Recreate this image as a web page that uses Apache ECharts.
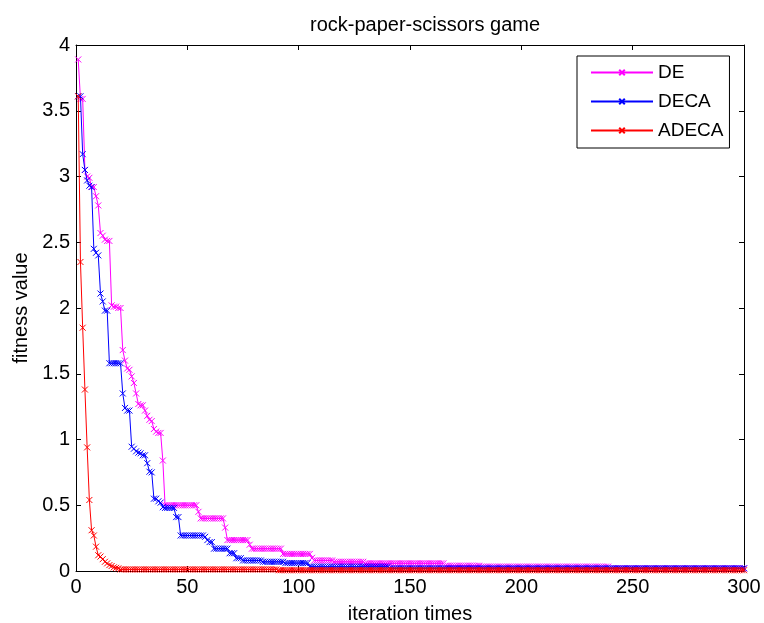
<!DOCTYPE html>
<html>
<head>
<meta charset="utf-8">
<title>rock-paper-scissors game</title>
<script src="https://cdn.jsdelivr.net/npm/echarts@6/dist/echarts.min.js"></script>
<style>
  html, body { margin: 0; padding: 0; background: #fff; }
  #chart { width: 764px; height: 623px; }
</style>
</head>
<body>
<div id="chart"></div>
<script>
// data, as [value, how many iterations it holds]
var seriesNames = ['DE', 'DECA', 'ADECA'];
var seriesColors = ['#ff00ff', '#0000ff', '#ff0000'];
var xTicks = [0, 50, 100, 150, 200, 250, 300];
var yTicks = [0, 0.5, 1, 1.5, 2, 2.5, 3, 3.5, 4];

var deSteps = [
  [3.89, 1], [3.59, 2], [3.05, 1], [3.00, 1], [2.99, 1], [2.92, 2], [2.85, 1], [2.78, 1],
  [2.57, 1], [2.55, 1], [2.52, 1], [2.51, 2], [2.02, 1], [2.01, 2], [2.00, 2], [1.68, 1],
  [1.60, 1], [1.54, 1], [1.53, 1], [1.48, 1], [1.43, 1], [1.35, 1], [1.27, 1], [1.26, 2],
  [1.22, 1], [1.18, 1], [1.15, 1], [1.14, 1], [1.08, 1], [1.06, 1], [1.05, 2], [0.84, 1],
  [0.50, 15], [0.45, 1], [0.40, 11], [0.33, 1], [0.235, 10], [0.20, 1], [0.17, 14],
  [0.13, 13], [0.10, 1], [0.08, 9], [0.07, 14], [0.058, 36], [0.04, 16], [0.033, 58], [0.02, 61]
];
var decaSteps = [
  [3.61, 2], [3.17, 1], [3.05, 1], [2.97, 1], [2.93, 1], [2.92, 1], [2.45, 1], [2.42, 1],
  [2.40, 1], [2.11, 1], [2.05, 1], [1.98, 2], [1.58, 6], [1.35, 1], [1.24, 1], [1.22, 2],
  [0.945, 1], [0.93, 1], [0.91, 1], [0.90, 1], [0.895, 1], [0.88, 2], [0.82, 1], [0.755, 1],
  [0.75, 1], [0.55, 2], [0.53, 1], [0.52, 1], [0.485, 1], [0.48, 5], [0.41, 2], [0.27, 11],
  [0.26, 1], [0.235, 1], [0.22, 2], [0.17, 7], [0.135, 3], [0.097, 3], [0.08, 9], [0.07, 10],
  [0.06, 11], [0.033, 36], [0.02, 160]
];
var adecaSteps = [
  [3.61, 1], [2.35, 1], [1.85, 1], [1.38, 1], [0.94, 1], [0.54, 1], [0.31, 1], [0.27, 1],
  [0.185, 1], [0.12, 1], [0.11, 1], [0.09, 1], [0.07, 1], [0.058, 1], [0.045, 1], [0.038, 1],
  [0.028, 1], [0.024, 1], [0.02, 1], [0.012, 71], [0.006, 210]
];

// expand the runs into [iteration, value] points, iterations start at 1
function expand(steps) {
  var out = [];
  var it = 1;
  steps.forEach(function (s) {
    for (var k = 0; k < s[1]; k++) {
      out.push([it, s[0]]);
      it++;
    }
  });
  return out;
}

var font = '"Liberation Sans", Arial, Helvetica, sans-serif';
var crossMark = 'path://M0,0L10,10M10,0L0,10';

function axisBase(show) {
  return {
    axisLine: { show: true, onZero: false, lineStyle: { color: '#000', width: 1 } },
    axisTick: { show: true, inside: true, length: 5, lineStyle: { color: '#000' } },
    splitLine: { show: false },
    axisLabel: { show: show, color: '#000', fontSize: 20, fontFamily: font }
  };
}

var xMain = axisBase(true);
xMain.type = 'value'; xMain.min = xTicks[0]; xMain.max = xTicks[xTicks.length - 1];
xMain.interval = xTicks[1] - xTicks[0]; xMain.position = 'bottom';
xMain.axisLabel.margin = 6;
xMain.name = 'iteration times'; xMain.nameLocation = 'middle'; xMain.nameGap = 33;
xMain.nameTextStyle = { color: '#000', fontSize: 20, fontFamily: font };

var xTop = axisBase(false);
xTop.type = 'value'; xTop.min = xMain.min; xTop.max = xMain.max; xTop.interval = xMain.interval;
xTop.position = 'top';

var yMain = axisBase(true);
yMain.type = 'value'; yMain.min = yTicks[0]; yMain.max = yTicks[yTicks.length - 1];
yMain.interval = yTicks[1] - yTicks[0]; yMain.position = 'left';
yMain.axisLabel.margin = 6;
yMain.name = 'fitness value'; yMain.nameLocation = 'middle'; yMain.nameGap = 45;
yMain.nameTextStyle = { color: '#000', fontSize: 20, fontFamily: font };

var yRight = axisBase(false);
yRight.type = 'value'; yRight.min = yMain.min; yRight.max = yMain.max; yRight.interval = yMain.interval;
yRight.position = 'right';

var allSteps = [deSteps, decaSteps, adecaSteps];
var series = allSteps.map(function (steps, i) {
  return {
    name: seriesNames[i],
    type: 'line',
    data: expand(steps),
    symbol: crossMark,
    symbolSize: 6,
    showSymbol: true,
    lineStyle: { color: seriesColors[i], width: 1 },
    itemStyle: { color: seriesColors[i], borderColor: seriesColors[i], borderWidth: 1 },
    emphasis: { disabled: true },
    z: 2 + i
  };
});

var myChart = echarts.init(document.getElementById('chart'), null, { renderer: 'canvas' });
var option = {
  backgroundColor: '#fff',
  animation: false,
  title: {
    text: 'rock-paper-scissors game',
    left: 420, top: 10, textAlign: 'center',
    textStyle: { color: '#000', fontSize: 20, fontWeight: 'normal', fontFamily: font }
  },
  grid: { left: 76, right: 20, top: 45, bottom: 52, containLabel: false, outerBoundsMode: 'none' },
  legend: {
    orient: 'vertical',
    left: 577, top: 56,
    padding: [7, 6, 8, 13],
    itemWidth: 62, itemHeight: 7, itemGap: 10,
    borderColor: '#000', borderWidth: 1,
    backgroundColor: '#fff',
    textStyle: { color: '#000', fontSize: 19, lineHeight: 19, fontFamily: font },
    data: seriesNames
  },
  xAxis: [xMain, xTop],
  yAxis: [yMain, yRight],
  series: series
};
myChart.setOption(option);
</script>
</body>
</html>
